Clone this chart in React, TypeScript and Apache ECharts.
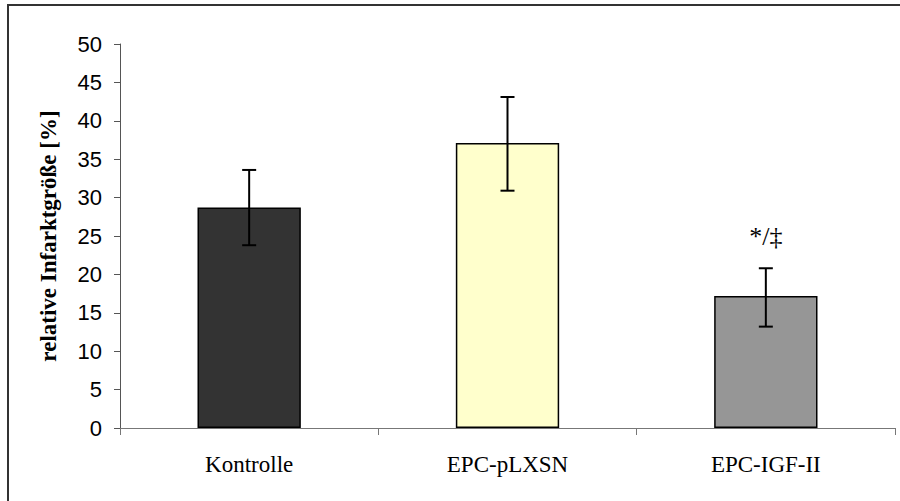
import React, { useEffect, useRef } from "react";
import * as echarts from "echarts";

const categories = ["Kontrolle", "EPC-pLXSN", "EPC-IGF-II"];
const means = [28.7, 37.1, 17.2];
const errLow = [23.8, 30.9, 13.2];
const errHigh = [33.6, 43.1, 20.8];
const barColors = ["#333333", "#FFFFCC", "#969696"];
const annotations = ["", "", "*/‡"];
const annotationY = [0, 0, 25];
const yTicks = { min: 0, max: 50, interval: 5 };

export default function App() {
  const ref = useRef<HTMLDivElement>(null);
  useEffect(() => {
    if (!ref.current) return;
    const chart = echarts.init(ref.current, null, { renderer: "svg" });
    chart.setOption({
      animation: false,
      backgroundColor: "#ffffff",
      graphic: [
        {
          type: "rect",
          shape: { x: 8, y: 5, width: 1000, height: 600 },
          style: { fill: "none", stroke: "#333333", lineWidth: 2 },
          silent: true,
        },
      ],
      grid: { left: 120, right: 5, top: 44, bottom: 73, containLabel: false },
      xAxis: {
        type: "category",
        data: categories,
        axisLine: { show: true, lineStyle: { color: "#777777", width: 1 } },
        axisTick: { show: true, length: 7, lineStyle: { color: "#777777" } },
        axisLabel: {
          fontFamily: "Liberation Serif",
          fontSize: 23,
          color: "#000000",
          margin: 25,
        },
      },
      yAxis: {
        type: "value",
        min: yTicks.min,
        max: yTicks.max,
        interval: yTicks.interval,
        splitLine: { show: false },
        axisLine: { show: true, lineStyle: { color: "#555555", width: 1 } },
        axisTick: { show: true, length: 6, lineStyle: { color: "#555555" } },
        axisLabel: {
          fontFamily: "Liberation Sans",
          fontSize: 22,
          color: "#000000",
          margin: 18,
        },
        name: "relative Infarktgröße [%]",
        nameLocation: "middle",
        nameGap: 60,
        nameRotate: 90,
        nameTextStyle: {
          fontFamily: "Liberation Serif",
          fontWeight: "bold",
          fontSize: 23,
          color: "#000000",
        },
      },
      series: [
        {
          type: "bar",
          barWidth: "40%",
          data: means.map((v, i) => ({
            value: v,
            itemStyle: { color: barColors[i], borderColor: "#000000", borderWidth: 1.5 },
          })),
        },
        {
          type: "custom",
          data: means.map((_, i) => [i, errLow[i], errHigh[i]]),
          z: 10,
          renderItem: (params: any, api: any) => {
            const i = api.value(0);
            const lo = api.coord([i, api.value(1)]);
            const hi = api.coord([i, api.value(2)]);
            const cap = 7;
            const style = { stroke: "#000000", lineWidth: 2 };
            return {
              type: "group",
              children: [
                { type: "line", shape: { x1: hi[0], y1: hi[1], x2: lo[0], y2: lo[1] }, style },
                { type: "line", shape: { x1: hi[0] - cap, y1: hi[1], x2: hi[0] + cap, y2: hi[1] }, style },
                { type: "line", shape: { x1: lo[0] - cap, y1: lo[1], x2: lo[0] + cap, y2: lo[1] }, style },
              ],
            };
          },
        },
        {
          type: "custom",
          data: annotations.map((t, i) => [i, annotationY[i], t]),
          z: 11,
          renderItem: (params: any, api: any) => {
            const idx = params.dataIndex;
            const txt = annotations[idx];
            if (!txt) return null;
            const p = api.coord([api.value(0), api.value(1)]);
            return {
              type: "text",
              x: p[0],
              y: p[1],
              style: {
                text: txt,
                fontFamily: "Liberation Serif",
                fontSize: 26,
                fill: "#000000",
                align: "center",
                verticalAlign: "middle",
              },
            };
          },
        },
      ],
    });
    return () => chart.dispose();
  }, []);
  return (
    <div
      ref={ref}
      style={{ position: "fixed", left: 0, top: 0, width: 900, height: 501, background: "#fff" }}
    />
  );
}
